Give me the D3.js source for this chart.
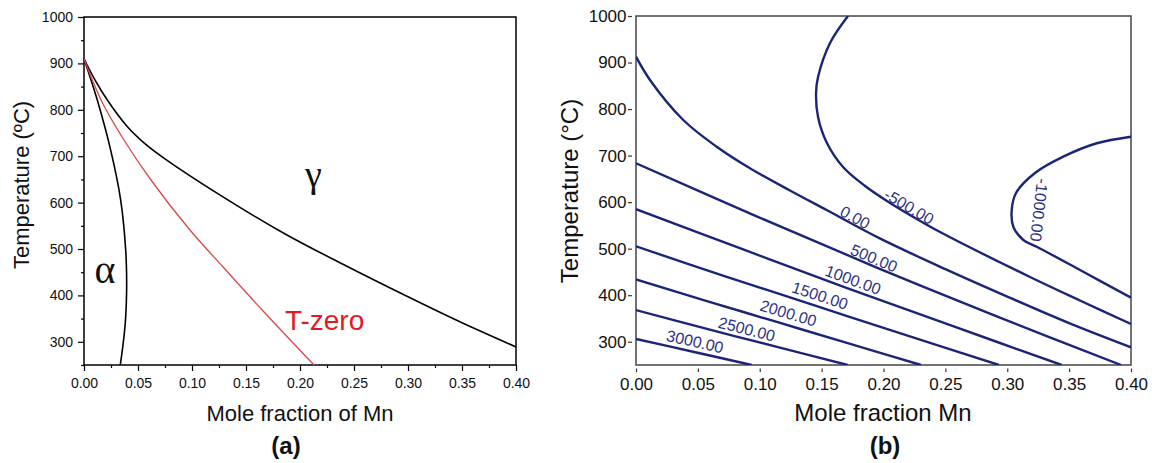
<!DOCTYPE html>
<html>
<head>
<meta charset="utf-8">
<script src="https://cdn.jsdelivr.net/npm/d3@7"></script>
<style>
  html, body { margin: 0; padding: 0; background: #fff; }
  svg { display: block; }
</style>
</head>
<body>
<svg id="chart" width="1152" height="463"></svg>
<script>
// ---------------- DATA ----------------
// Panel (a): phase boundaries, [mole fraction Mn, temperature °C]
const alphaBoundary = [[0,910],[0.0123,821],[0.0247,713],[0.034,605],[0.0386,498],[0.0395,430],[0.0392,385],[0.0382,340],[0.0362,295],[0.0336,250]];
const gammaBoundary = [[0,910],[0.01,865],[0.0216,821],[0.040,764],[0.055,730],[0.074,696],[0.1235,620],[0.185,534],[0.2407,466],[0.30,397],[0.35,341],[0.40,289]];
const tZeroLine = [[0,910],[0.0167,816.8],[0.037,734.9],[0.062,648.7],[0.0981,540.9],[0.1296,459.1],[0.1667,364.2],[0.213,250]];
const regionLabels = ["α", "γ"];
const regionLabelX = [0.0194, 0.2123];
const regionLabelT = [426.7, 633.6];
const tZeroLabel = "T-zero";
const tZeroLabelX = 0.186, tZeroLabelT = 325.4;
const xTicksA = [0,0.05,0.10,0.15,0.20,0.25,0.30,0.35,0.40];
const xMinorA = [0.025,0.075,0.125,0.175,0.225,0.275,0.325,0.375];
const yTicksA = [300,400,500,600,700,800,900,1000];
const yMinorA = [250,350,450,550,650,750,850,950];

// Panel (b): contour lines of driving force, [mole fraction Mn, temperature °C]
const contourM1000 = [[0.40,740.6],[0.3723,726.5],[0.3453,697.7],[0.3224,662.6],[0.3071,619.7],[0.3036,583],[0.3049,547.2],[0.313,518.6],[0.3238,504.2],[0.3588,454.2],[0.40,394.6]];
const contourM500 = [[0.1713,1000],[0.1568,942],[0.1471,869],[0.1455,834.6],[0.1471,783],[0.1543,727],[0.1673,675.5],[0.1851,634.7],[0.2053,598.2],[0.2255,566],[0.2457,535.8],[0.3184,439.1],[0.3596,387.5],[0.40,338.1]];
const contour0 = [[0,912.6],[0.0113,862.5],[0.0382,776.5],[0.0652,719],[0.0921,672.7],[0.1244,625],[0.154,583],[0.197,522],[0.25,456],[0.30,397],[0.35,340],[0.40,288]];
const contour500 = [[0,683.5],[0.097,570],[0.194,460],[0.291,355],[0.392,250]];
const contour1000 = [[0,585],[0.085,500],[0.170,416],[0.2545,335],[0.344,250]];
const contour1500 = [[0,505],[0.0727,440],[0.1455,377],[0.2182,314],[0.2933,250]];
const contour2000 = [[0,434],[0.0566,388],[0.1131,343],[0.1697,298],[0.2303,250]];
const contour2500 = [[0,368],[0.0566,328],[0.1131,289.5],[0.171,250]];
const contour3000 = [[0,306],[0.047,278],[0.0935,250]];
const contourNames = ["-1000.00","-500.00","0.00","500.00","1000.00","1500.00","2000.00","2500.00","3000.00"];
const contourLabelX = [0.3257,0.2206,0.1770,0.1923,0.1754,0.1487,0.1231,0.0895,0.0477];
const contourLabelT = [583.1,590.2,567,479.3,432.7,398.7,361.1,326.9,300.1];
const xTicksB = [0,0.05,0.10,0.15,0.20,0.25,0.30,0.35,0.40];
const yTicksB = [300,400,500,600,700,800,900,1000];

// ---------------- DRAWING ----------------
const SANS = '"Liberation Sans", Arial, Helvetica, sans-serif';
const SERIF = '"Liberation Serif", "Times New Roman", "DejaVu Serif", serif';
const svg = d3.select("#chart");
svg.append("rect").attr("width",1152).attr("height",463).attr("fill","#fff");

// ===== Panel (a) =====
const xA = d3.scaleLinear().domain([0,0.4]).range([84,516]);
const yA = d3.scaleLinear().domain([250,1000]).range([365,17]);
const gA = svg.append("g");
const lineA = d3.line().x(d=>xA(d[0])).y(d=>yA(d[1])).curve(d3.curveCatmullRom.alpha(0.5));

function styleAxis(g, fontSize, color) {
  g.select(".domain").remove();
  g.selectAll(".tick line").attr("stroke", color).attr("stroke-width", 1.2);
  g.selectAll(".tick text").attr("fill", "#111").style("font-family", SANS).style("font-size", fontSize + "px");
}

gA.append("g").attr("transform","translate(0,365)")
  .call(d3.axisBottom(xA).tickValues(xMinorA).tickSize(3).tickFormat(""))
  .call(g=>styleAxis(g,14,"#000"));
gA.append("g").attr("transform","translate(0,365)")
  .call(d3.axisBottom(xA).tickValues(xTicksA).tickSize(6).tickPadding(7).tickFormat(d3.format(".2f")))
  .call(g=>styleAxis(g,14,"#000"));
gA.append("g").attr("transform","translate(84,0)")
  .call(d3.axisLeft(yA).tickValues(yMinorA).tickSize(3).tickFormat(""))
  .call(g=>styleAxis(g,14,"#000"));
gA.append("g").attr("transform","translate(84,0)")
  .call(d3.axisLeft(yA).tickValues(yTicksA).tickSize(6).tickPadding(5).tickFormat(d3.format("d")))
  .call(g=>styleAxis(g,14,"#000"));

gA.append("rect").attr("x",xA(0)).attr("y",yA(1000))
  .attr("width",xA(0.4)-xA(0)).attr("height",yA(250)-yA(1000))
  .attr("fill","none").attr("stroke","#000").attr("stroke-width",1.5);

gA.append("path").datum(alphaBoundary).attr("d",lineA).attr("fill","none").attr("stroke","#000").attr("stroke-width",1.6);
gA.append("path").datum(gammaBoundary).attr("d",lineA).attr("fill","none").attr("stroke","#000").attr("stroke-width",1.6);
gA.append("path").datum(tZeroLine).attr("d",lineA).attr("fill","none").attr("stroke","#d8474a").attr("stroke-width",1.3);

regionLabels.forEach((t,i)=>{
  gA.append("text").attr("x",xA(regionLabelX[i])).attr("y",yA(regionLabelT[i]))
    .attr("text-anchor","middle").style("font-family",SERIF).style("font-size",(i===0?40:38)+"px")
    .attr("fill","#111").text(t);
});
gA.append("text").attr("x",xA(tZeroLabelX)).attr("y",yA(tZeroLabelT))
  .style("font-family",SANS).style("font-size","28px").attr("fill","#e3191f").text(tZeroLabel);

gA.append("text").attr("transform","translate(29,185) rotate(-90)").attr("text-anchor","middle")
  .style("font-family",SANS).style("font-size","22px").attr("fill","#111").text("Temperature (ºC)");
gA.append("text").attr("x",300).attr("y",421).attr("text-anchor","middle")
  .style("font-family",SANS).style("font-size","22px").attr("fill","#111").text("Mole fraction of Mn");
gA.append("text").attr("x",286).attr("y",454).attr("text-anchor","middle")
  .style("font-family",SANS).style("font-size","24px").style("font-weight","bold").attr("fill","#111").text("(a)");

// ===== Panel (b) =====
const xB = d3.scaleLinear().domain([0,0.4]).range([636,1131]);
const yB = d3.scaleLinear().domain([250,1000]).range([365,16]);
const gB = svg.append("g");
const lineB = d3.line().x(d=>xB(d[0])).y(d=>yB(d[1])).curve(d3.curveCatmullRom.alpha(0.5));

svg.append("defs").append("clipPath").attr("id","clipB").append("rect")
  .attr("x",xB(0)).attr("y",yB(1000)).attr("width",xB(0.4)-xB(0)).attr("height",yB(250)-yB(1000));

const xAxB = gB.append("g").attr("transform","translate(0,365)")
  .call(d3.axisBottom(xB).tickValues(xTicksB).tickSize(7).tickPadding(6).tickFormat(d3.format(".2f")))
  .call(g=>styleAxis(g,17,"#333"));
xAxB.selectAll(".tick line").attr("y1",3.5);
const yAxB = gB.append("g").attr("transform","translate(636,0)")
  .call(d3.axisLeft(yB).tickValues(yTicksB).tickSize(8).tickPadding(1.5).tickFormat(d3.format("d")))
  .call(g=>styleAxis(g,17,"#333"));
yAxB.selectAll(".tick line").attr("x1",-4);

gB.append("rect").attr("x",xB(0)).attr("y",yB(1000))
  .attr("width",xB(0.4)-xB(0)).attr("height",yB(250)-yB(1000))
  .attr("fill","none").attr("stroke","#444").attr("stroke-width",1.5);

const contourLines = [contourM1000, contourM500, contour0, contour500, contour1000, contour1500, contour2000, contour2500, contour3000];
const cg = gB.append("g").attr("clip-path","url(#clipB)");
const paths = contourLines.map(pts =>
  cg.append("path").datum(pts).attr("d",lineB).attr("fill","none")
    .attr("stroke","#1b2577").attr("stroke-width",2.4).attr("stroke-linejoin","round").node()
);

// labels: rotate along the tangent of the nearest point on their contour
contourNames.forEach((name,i)=>{
  const lx = xB(contourLabelX[i]), ly = yB(contourLabelT[i]);
  const p = paths[i], L = p.getTotalLength();
  let best = 0, bd = Infinity;
  for (let s = 0; s <= L; s += 0.5) {
    const q = p.getPointAtLength(s);
    const d = (q.x-lx)*(q.x-lx)+(q.y-ly)*(q.y-ly);
    if (d < bd) { bd = d; best = s; }
  }
  const a = p.getPointAtLength(Math.max(0,best-3)), b = p.getPointAtLength(Math.min(L,best+3));
  const ang = Math.atan2(b.y-a.y, b.x-a.x)*180/Math.PI;
  gB.append("text").attr("transform",`translate(${lx},${ly}) rotate(${ang})`)
    .attr("text-anchor","middle").attr("dominant-baseline","central")
    .style("font-family",SANS).style("font-size","16px").attr("fill","#2e3282").text(name);
});

gB.append("text").attr("transform","translate(578,191) rotate(-90)").attr("text-anchor","middle")
  .style("font-family",SANS).style("font-size","24px").attr("fill","#111").text("Temperature (°C)");
gB.append("text").attr("x",883).attr("y",421).attr("text-anchor","middle")
  .style("font-family",SANS).style("font-size","24px").attr("fill","#111").text("Mole fraction Mn");
gB.append("text").attr("x",885).attr("y",454).attr("text-anchor","middle")
  .style("font-family",SANS).style("font-size","24px").style("font-weight","bold").attr("fill","#111").text("(b)");
</script>
</body>
</html>
